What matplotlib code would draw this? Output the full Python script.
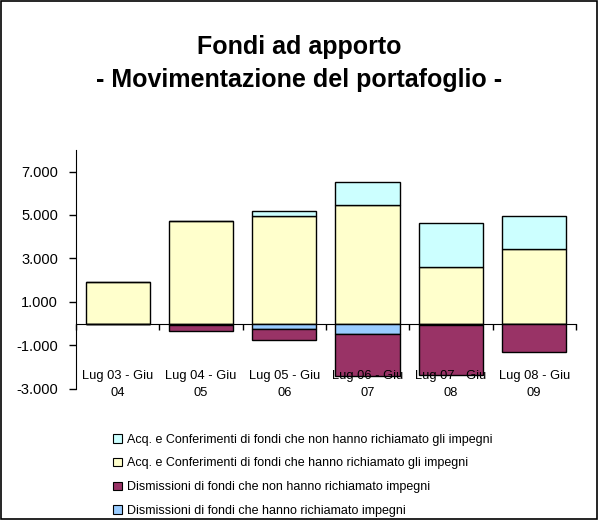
import matplotlib
matplotlib.use('Agg')
import matplotlib.pyplot as plt
from matplotlib.patches import Rectangle, Patch
import numpy as np

plt.rcParams['font.family'] = ['Liberation Sans', 'DejaVu Sans']

#%% DATA
periods = ['Lug 03 - Giu\n04', 'Lug 04 - Giu\n05', 'Lug 05 - Giu\n06',
           'Lug 06 - Giu\n07', 'Lug 07 - Giu\n08', 'Lug 08 - Giu\n09']
acq_richiamato = [1920, 4710, 4970, 5460, 2590, 3430]
acq_non_richiamato = [0, 0, 230, 1070, 2060, 1540]
dism_richiamato = [0, -50, -230, -460, -60, 0]
dism_non_richiamato = [0, -290, -510, -1960, -2310, -1280]
yticks = [-3000, -1000, 1000, 3000, 5000, 7000]

labels = ['Acq. e Conferimenti di fondi che non hanno richiamato gli impegni',
          'Acq. e Conferimenti di fondi che hanno richiamato gli impegni',
          'Dismissioni di fondi che non hanno richiamato impegni',
          'Dismissioni di fondi che hanno richiamato impegni']
colors = ['#CCFFFF', '#FFFFCC', '#993366', '#99CCFF']

#%% PLOT
fig = plt.figure(figsize=(5.98, 5.2), dpi=100)
ax = fig.add_axes([0.127, 0.252, 0.836, 0.46])

x = np.arange(len(periods))
w = 0.77
ax.bar(x, acq_richiamato, w, color=colors[1], edgecolor='black', linewidth=1, zorder=2)
ax.bar(x, acq_non_richiamato, w, bottom=acq_richiamato, color=colors[0], edgecolor='black', linewidth=1, zorder=2)
ax.bar(x, dism_richiamato, w, color=colors[3], edgecolor='black', linewidth=1, zorder=2)
ax.bar(x, dism_non_richiamato, w, bottom=dism_richiamato, color=colors[2], edgecolor='black', linewidth=1, zorder=2)

ax.set_xlim(-0.5, len(periods) - 0.5)
ax.set_ylim(-3000, 8000)
ax.set_yticks(yticks)
ax.set_yticklabels(['{:,}'.format(v).replace(',', '.') for v in yticks], fontsize=10.5)
ax.tick_params(axis='y', direction='out', length=5, width=1, pad=8)

ax.spines['top'].set_visible(False)
ax.spines['right'].set_visible(False)
ax.spines['bottom'].set_position(('data', 0))
ax.spines['bottom'].set_zorder(3)
ax.set_xticks(np.arange(-0.5, len(periods), 1.0))
ax.set_xticklabels([])
ax.tick_params(axis='x', direction='out', length=4, width=1)

for xi, lab in zip(x, periods):
    ax.text(xi, -2780, lab, ha='center', va='center', fontsize=9.3, linespacing=1.55, zorder=5)

fig.text(0.5, 0.91, 'Fondi ad apporto', ha='center', va='center', fontsize=18, fontweight='bold')
fig.text(0.5, 0.846, '- Movimentazione del portafoglio -', ha='center', va='center', fontsize=18, fontweight='bold')

handles = [Patch(facecolor=c, edgecolor='black', linewidth=0.8) for c in colors]
fig.legend(handles, labels, loc='upper left', bbox_to_anchor=(0.175, 0.183), frameon=False,
           fontsize=9, handlelength=0.7, handleheight=0.7, handletextpad=0.4, labelspacing=0.95,
           borderpad=0.2)

fig.patches.append(Rectangle((0.001, 0.001), 0.997, 0.997, transform=fig.transFigure,
                             fill=False, edgecolor='black', linewidth=1.2))

plt.savefig('out.png', dpi=100)
